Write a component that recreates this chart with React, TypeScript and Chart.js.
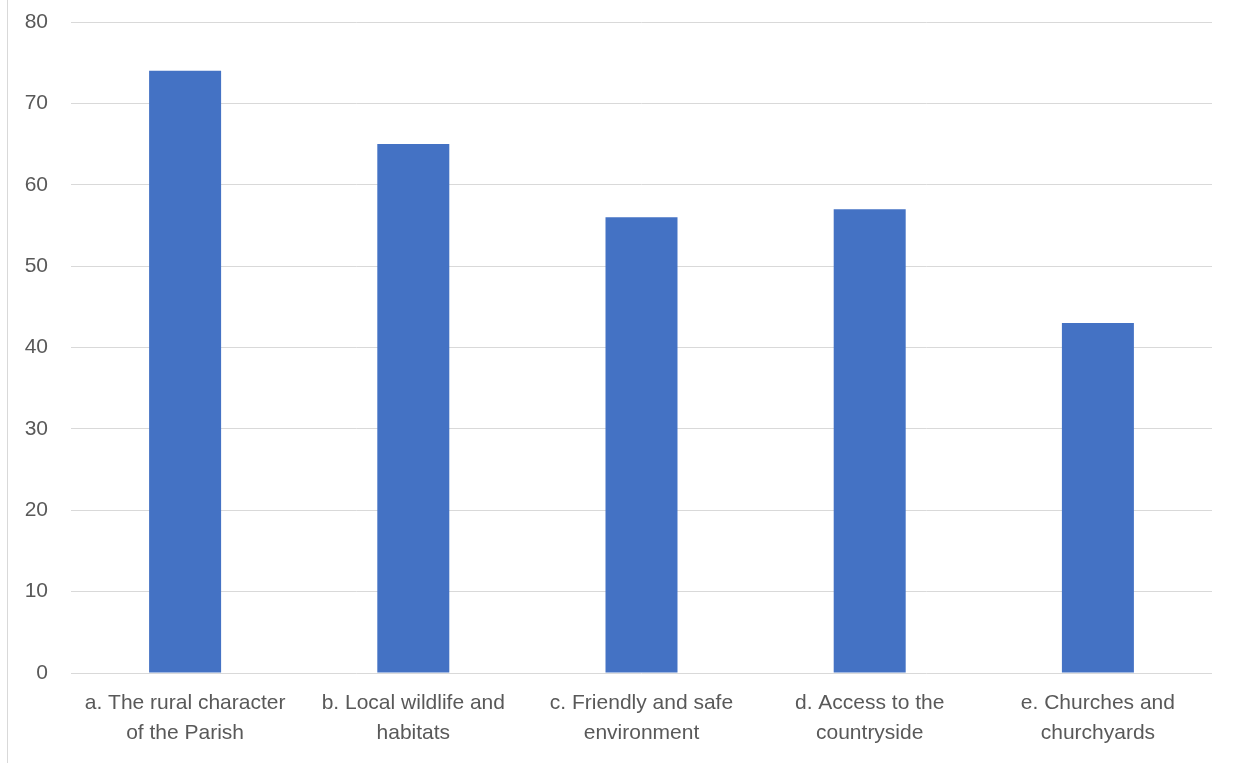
import React, { useEffect, useRef } from "react";
import { Chart, registerables } from "chart.js";

Chart.register(...registerables);

const categories: string[][] = [
  ["a. The rural character", "of the Parish"],
  ["b. Local wildlife and", "habitats"],
  ["c. Friendly and safe", "environment"],
  ["d. Access to the", "countryside"],
  ["e. Churches and", "churchyards"],
];
const values: number[] = [74, 65, 56, 57, 43];
const yMin = 0;
const yMax = 80;
const yStep = 10;

export default function App() {
  const ref = useRef<HTMLCanvasElement | null>(null);
  useEffect(() => {
    document.body.style.margin = "0";
    const canvas = ref.current;
    if (!canvas) return;
    const font = { family: "'Liberation Sans', Arial, sans-serif", size: 21 };
    const chart = new Chart(canvas, {
      type: "bar",
      data: {
        labels: categories,
        datasets: [
          {
            data: values,
            backgroundColor: "#4472C4",
            borderWidth: 0,
            barPercentage: 0.3155,
            categoryPercentage: 1,
          },
        ],
      },
      options: {
        responsive: false,
        animation: false,
        layout: { padding: { left: 0, right: 22, top: 22, bottom: 0 } },
        plugins: { legend: { display: false }, tooltip: { enabled: false } },
        scales: {
          x: {
            grid: { display: false, drawTicks: false },
            border: { display: false },
            ticks: {
              color: "#595959",
              font: { ...font, lineHeight: 1.4 },
              padding: 16,
              maxRotation: 0,
              autoSkip: false,
            },
            afterFit: (s: any) => {
              s.height = 90;
            },
          },
          y: {
            min: yMin,
            max: yMax,
            grid: { color: "#d9d9d9", lineWidth: 1, drawTicks: false },
            border: { display: false },
            ticks: { stepSize: yStep, color: "#595959", font, padding: 23 },
            afterFit: (s: any) => {
              s.width = 71;
              s.paddingTop = 0;
              s.paddingBottom = 0;
            },
          },
        },
      },
    });
    return () => chart.destroy();
  }, []);
  return (
    <div style={{ position: "fixed", left: 0, top: 0, width: 1234, height: 763, background: "#fff" }}>
      <div
        style={{
          position: "absolute",
          left: 7,
          top: 0,
          width: 0,
          height: 763,
          borderLeft: "1px solid #d9d9d9",
        }}
      />
      <canvas ref={ref} width={1234} height={763} style={{ position: "absolute", left: 0, top: 0 }} />
    </div>
  );
}
